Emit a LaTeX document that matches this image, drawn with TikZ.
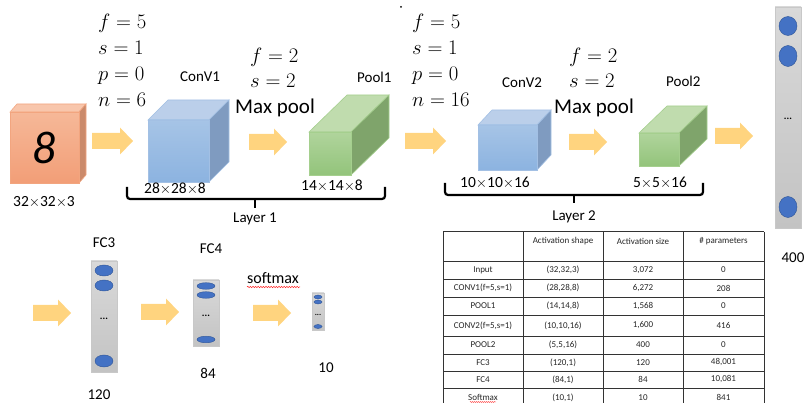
\documentclass[tikz,border=0pt]{standalone}
\usepackage{fontspec}
\setmainfont{Carlito}
\usetikzlibrary{decorations.pathmorphing}

% face colours of the volumes
\definecolor{orFrontA}{HTML}{F6B898}\definecolor{orFrontB}{HTML}{F29E77}
\definecolor{orTop}{HTML}{F8C6AC}\definecolor{orSide}{HTML}{CB8A6B}\definecolor{orEdge}{HTML}{F2A57F}
\definecolor{blFrontA}{HTML}{A6C4E6}\definecolor{blFrontB}{HTML}{8CB3E0}
\definecolor{blTop}{HTML}{BBCFEA}\definecolor{blSide}{HTML}{7F9BC0}\definecolor{blEdge}{HTML}{A3C0E4}
\definecolor{grFrontA}{HTML}{B0D49C}\definecolor{grFrontB}{HTML}{93C47B}
\definecolor{grTop}{HTML}{C0DCAE}\definecolor{grSide}{HTML}{7FA46B}\definecolor{grEdge}{HTML}{A5CF8E}
\definecolor{arrowFill}{HTML}{FFD47F}
\definecolor{barTop}{HTML}{D9D9D9}\definecolor{barBottom}{HTML}{C3C3C3}\definecolor{barEdge}{HTML}{C8C8C8}
\definecolor{unitFill}{HTML}{4472C4}\definecolor{unitEdge}{HTML}{2F5597}
\definecolor{gridLine}{HTML}{333333}

% volume: left x, top y of front face, width, height, depth dx, depth dy, colour prefix
\newcommand\drawvolume[7]{%
  \fill[#7Top, draw=#7Edge, line width=0.6pt] (#1,#2) -- ++(#5,-#6) -- ++(#3,0) -- (#1+#3,#2) -- cycle;
  \fill[#7Side, draw=#7Edge, line width=0.6pt] (#1+#3,#2) -- ++(#5,-#6) -- ++(0,#4) -- (#1+#3,#2+#4) -- cycle;
  \shade[top color=#7FrontA, bottom color=#7FrontB, draw=#7Edge, line width=0.6pt] (#1,#2) rectangle ++(#3,#4);
}
% block arrow: start x, tip x, centre y
\newcommand\blockarrow[3]{%
  \fill[arrowFill] (#1,#3-8) -- (#2-13,#3-8) -- (#2-13,#3-13.5) -- (#2,#3)
    -- (#2-13,#3+13.5) -- (#2-13,#3+8) -- (#1,#3+8) -- cycle;
}
% column of units: left x, top y, width, height
\newcommand\unitbar[4]{%
  \shade[top color=barTop, bottom color=barBottom, draw=barEdge, line width=0.6pt] (#1,#2) rectangle ++(#3,#4);
}
\newcommand\unit[4]{% centre x, centre y, rx, ry
  \fill[unitFill, draw=unitEdge, line width=0.4pt] (#1,#2) ellipse [x radius=#3, y radius=#4];
}

\tikzset{
  mathlbl/.style={anchor=base west, inner sep=0pt, font=\fontsize{20}{24}\selectfont},
  lbl/.style={anchor=base, inner sep=0pt, font=\fontsize{15}{18}\selectfont},
  lblw/.style={anchor=base west, inner sep=0pt, font=\fontsize{15}{18}\selectfont},
  dimlbl/.style={anchor=base, inner sep=0pt, font=\fontsize{15.5}{18}\selectfont},
  bigl/.style={anchor=base west, inner sep=0pt, font=\fontsize{21}{24}\selectfont},
  brace/.style={line width=2.2pt, rounded corners=3pt},
  dots/.style={inner sep=0pt, font=\fontsize{10}{12}\selectfont\bfseries},
  cell/.style={inner sep=0pt, font=\fontsize{9}{11}\selectfont, text=black!85},
  spell/.style={red!85, line width=0.5pt, decorate, decoration={snake, amplitude=0.7pt, segment length=2.6pt}},
}

\begin{document}
\begin{tikzpicture}[x=1pt, y=-1pt]
\useasboundingbox (0,0) rectangle (807,403);
\clip (0,0) rectangle (807,403);

% ---- input image ----
\drawvolume{10}{112}{69}{71}{7}{8}{or}
\node[inner sep=0pt, font=\fontsize{46}{50}\selectfont\itshape] (digit) at (44,148) {8};
\node[dimlbl] (inshape) at (44,207) {32$\times$32$\times$3};

% ---- layer 1 ----
\node[mathlbl] (c1f) at (98,29) {$f=5$};
\node[mathlbl] (c1s) at (98,55) {$s=1$};
\node[mathlbl] (c1p) at (98,81) {$p=0$};
\node[mathlbl] (c1n) at (98,107) {$n=6$};
\blockarrow{92}{133}{141}
\node[lblw] (conv1) at (180,82) {ConV1};
\drawvolume{148}{120}{61}{62}{20}{20}{bl}
\node[dimlbl] (conv1dim) at (175,194) {28$\times$28$\times$8};

\node[mathlbl] (p1f) at (250,63) {$f=2$};
\node[mathlbl] (p1s) at (250,88) {$s=2$};
\node[bigl] (p1max) at (235,114) {Max pool};
\blockarrow{249}{287}{142}
\node[lblw] (pool1) at (357,83) {Pool1};
\drawvolume{309}{132}{42}{43}{38}{37}{gr}
\node[dimlbl] (pool1dim) at (332,191) {14$\times$14$\times$8};

\coordinate (b1l) at (127,187);
\coordinate (b1r) at (385,187);
\draw[brace] (b1l) -- (127,199) -- (385,199) -- (b1r);
\draw[line width=2.2pt] (255,199) -- (255,208);
\node[lbl] (layer1) at (255,223) {Layer 1};

% ---- layer 2 ----
\fill (401,7) circle (1pt);
\node[mathlbl] (c2f) at (412,29) {$f=5$};
\node[mathlbl] (c2s) at (412,55) {$s=1$};
\node[mathlbl] (c2p) at (412,81) {$p=0$};
\node[mathlbl] (c2n) at (412,107) {$n=16$};
\blockarrow{405}{446}{141}
\node[lblw] (conv2) at (502,88) {ConV2};
\drawvolume{478}{125}{59}{45}{14}{15}{bl}
\node[dimlbl] (conv2dim) at (495,188) {10$\times$10$\times$16};

\node[mathlbl] (p2f) at (569,63) {$f=2$};
\node[mathlbl] (p2s) at (569,88) {$s=2$};
\node[bigl] (p2max) at (554,114) {Max pool};
\blockarrow{569}{607}{142}
\node[lblw] (pool2) at (666,87) {Pool2};
\drawvolume{639}{133}{40}{33}{28}{27}{gr}
\node[dimlbl] (pool2dim) at (660,188) {5$\times$5$\times$16};

\coordinate (b2l) at (445,183);
\coordinate (b2r) at (703,183);
\draw[brace] (b2l) -- (445,195) -- (703,195) -- (b2r);
\draw[line width=2.2pt] (574,195) -- (574,203);
\node[lbl] (layer2) at (574,221) {Layer 2};

% ---- flattened 400 ----
\blockarrow{715}{753}{136}
\unitbar{775}{7}{26}{221}
\unit{788}{26}{9}{9.5}
\unit{788}{56}{9}{10.5}
\unit{788}{207}{9}{10.5}
\node[dots] (flatdots) at (788,119) {...};
\node[lbl] (flatn) at (793,263) {400};

% ---- fully connected part ----
\blockarrow{33}{71}{313}
\node[lbl] (fc3) at (104,248) {FC3};
\unitbar{91}{261}{26}{111}
\unit{104}{270.5}{9}{5.5}
\unit{104}{285.5}{9}{5.5}
\unit{104}{361}{9}{6}
\node[dots] (fc3dots) at (104,319) {...};
\node[lbl] (fc3n) at (99,400) {120};

\blockarrow{141}{179}{312}
\node[lbl] (fc4) at (211,254) {FC4};
\unitbar{193}{280}{26}{66}
\unit{206}{286}{9}{3.3}
\unit{206}{295}{9}{3.3}
\unit{206}{339.5}{9}{3.3}
\node[dots] (fc4dots) at (206,316) {...};
\node[lbl] (fc4n) at (208,379) {84};

\node[lbl, font=\fontsize{16}{18}\selectfont] (smax) at (273,284) {softmax};
\draw[spell] (247,287) -- (300,287);
\blockarrow{253}{291}{313}
\unitbar{312}{293}{12}{37}
\unit{318}{297}{4}{2}
\unit{318}{302}{4}{2}
\unit{318}{326.5}{4}{2}
\node[dots, font=\fontsize{8}{10}\selectfont\bfseries] (smdots) at (318,315) {...};
\node[lbl] (smn) at (326,373) {10};

% ---- summary table ----
\draw[gridLine, line width=1pt] (443,232) -- (764,232);
\foreach \ry in {261,279,297,315,336,354,371,388}
  \draw[gridLine, line width=0.9pt] (443,\ry) -- (764,\ry);
\foreach \cx in {443,523,603,683,764}
  \draw[gridLine, line width=1pt] (\cx,232) -- (\cx,406);

\node[cell] (h2) at (563,241) {Activation shape};
\node[cell] (h3) at (643,241) {Activation size};
\node[cell] (h4) at (723.5,241) {\# parameters};

\foreach \ry/\na/\nb/\nc/\nd [count=\i] in {
  270/Input/{(32,32,3)}/{3,072}/0,
  288/{CONV1(f=5,s=1)}/{(28,28,8)}/{6,272}/208,
  306/POOL1/{(14,14,8)}/{1,568}/0,
  325.5/{CONV2(f=5,s=1)}/{(10,10,16)}/{1,600}/416,
  345/POOL2/{(5,5,16)}/400/0,
  362.5/FC3/{(120,1)}/120/{48,001},
  379.5/FC4/{(84,1)}/84/{10,081},
  397.5/Softmax/{(10,1)}/10/841}{
  \node[cell] (r\i a) at (483,\ry) {\na};
  \node[cell] (r\i b) at (563,\ry) {\nb};
  \node[cell] (r\i c) at (643,\ry) {\nc};
  \node[cell] (r\i d) at (723.5,\ry) {\nd};
}
\draw[spell, line width=0.4pt, decoration={snake, amplitude=0.5pt, segment length=2pt}] (470,402) -- (496,402);
\end{tikzpicture}
\end{document}
